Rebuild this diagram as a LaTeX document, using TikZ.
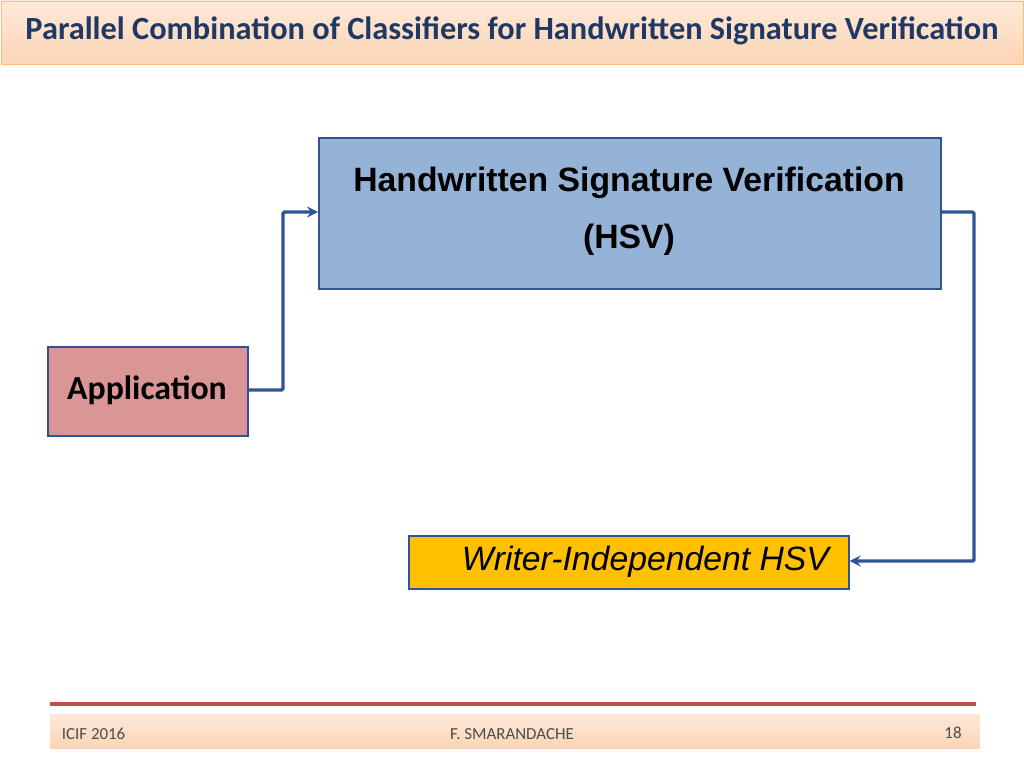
\documentclass[tikz,border=0pt]{standalone}
\usepackage{fontspec}
\setmainfont{Carlito}
\newfontfamily\arialfont{Liberation Sans}
\usetikzlibrary{positioning}
\definecolor{titleblue}{HTML}{1F3864}
\definecolor{boxline}{HTML}{2F5597}
\definecolor{hsvfill}{HTML}{95B3D7}
\definecolor{appfill}{HTML}{D99694}
\definecolor{wifill}{HTML}{FFC000}
\definecolor{peach}{HTML}{FCD5B4}
\definecolor{peachlight}{HTML}{FDE9D9}
\definecolor{redline}{HTML}{C0504D}
\begin{document}
\begin{tikzpicture}[x=0.025cm,y=-0.025cm,
  blockbox/.style={draw=boxline,line width=1.2pt,inner sep=0pt,anchor=north west},
  flow/.style={draw=boxline,line width=2.4pt,->,>=stealth,rounded corners=1pt},
  foottext/.style={font=\fontsize{12}{14}\selectfont,text=black!70}]
\useasboundingbox (0,0) rectangle (1024,768);
% title bar
\shade[top color=peachlight,bottom color=peach,draw=peach!70!orange] (1,1) rectangle (1023,64);
\node (title) at (512,31) {\fontsize{23}{26}\selectfont\bfseries\color{titleblue}Parallel Combination of Classifiers for Handwritten Signature Verification};
% blocks
\node (hsv) [blockbox,fill=hsvfill,minimum width=622*0.025cm,minimum height=151*0.025cm] at (318,137) {};
\node (hsvtext) at (629,183) {\arialfont\bfseries\fontsize{24}{28}\selectfont Handwritten Signature Verification};
\node (hsvabbr) at (629,240) {\arialfont\bfseries\fontsize{24}{28}\selectfont (HSV)};
\node (app) [blockbox,fill=appfill,minimum width=200*0.025cm,minimum height=89*0.025cm] at (47,346) {};
\node (apptext) at (147,390) {\bfseries\fontsize{24}{28}\selectfont Application};
\node (wi) [blockbox,fill=wifill,minimum width=440*0.025cm,minimum height=53*0.025cm] at (408,535) {};
\node (witext) [anchor=east] at (834,562) {\arialfont\itshape\fontsize{24}{28}\selectfont Writer-Independent HSV};
% connectors
\draw[flow] (app.east |- apptext) -- (283,390) -- (283,212) -- (hsv.west |- 0,212);
\draw[flow] (hsv.east |- 0,212) -- (974,212) -- (974,561) -- (wi.east |- 0,561);
% footer
\draw[redline,line width=2.5pt] (50,704) -- (976,704);
\shade[top color=peachlight,bottom color=peach] (50,714) rectangle (980,748);
\node (conf) [foottext,anchor=west] at (57,734) {ICIF 2016};
\node (author) [foottext] at (512,734) {F. SMARANDACHE};
\node (page) [foottext] at (953,733) {18};
\end{tikzpicture}
\end{document}
